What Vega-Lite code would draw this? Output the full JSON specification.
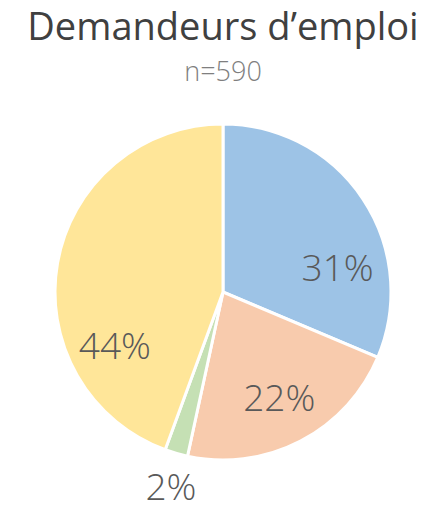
{
  "$schema": "https://vega.github.io/schema/vega-lite/v6.json",
  "width": 446,
  "height": 434,
  "autosize": "none",
  "padding": {"top": 75, "left": 0, "right": 0, "bottom": 0},
  "background": "white",
  "view": {"stroke": null},
  "title": {
    "text": "Demandeurs d’emploi",
    "subtitle": "n=590",
    "anchor": "middle",
    "font": "Open Sans",
    "fontSize": 38,
    "fontWeight": "normal",
    "color": "#404040",
    "subtitleFont": "Open Sans",
    "subtitleFontSize": 27,
    "subtitleFontWeight": 300,
    "subtitleColor": "#7F7F7F",
    "subtitlePadding": 12,
    "offset": -11
  },
  "data": {
    "values": [
      {"k": 1, "categorie": "A", "n": 185, "label": "31%"},
      {"k": 2, "categorie": "B", "n": 130, "label": "22%"},
      {"k": 3, "categorie": "C", "n": 13, "label": "2%"},
      {"k": 4, "categorie": "D", "n": 262, "label": "44%"}
    ]
  },
  "encoding": {
    "theta": {"field": "n", "type": "quantitative", "stack": true},
    "order": {"field": "k", "type": "quantitative"},
    "color": {
      "field": "categorie",
      "type": "nominal",
      "scale": {"domain": ["A", "B", "C", "D"], "range": ["#9DC3E6", "#F8CBAD", "#C5E0B4", "#FFE699"]},
      "legend": null
    }
  },
  "layer": [
    {
      "mark": {"type": "arc", "outerRadius": 168, "stroke": "white", "strokeWidth": 3}
    },
    {
      "mark": {"type": "text", "radius": 122, "font": "Open Sans", "fontSize": 37, "fontWeight": 300, "baseline": "middle", "align": "center"},
      "encoding": {
        "text": {"field": "label"},
        "opacity": {"condition": {"test": "datum.k == 2", "value": 1}, "value": 0},
        "color": {"value": "#595959"}
      }
    },
    {
      "mark": {"type": "text", "radius": 122, "dx": 13, "dy": 45, "font": "Open Sans", "fontSize": 37, "fontWeight": 300, "baseline": "middle", "align": "center"},
      "encoding": {
        "text": {"field": "label"},
        "opacity": {"condition": {"test": "datum.k == 1", "value": 1}, "value": 0},
        "color": {"value": "#595959"}
      }
    },
    {
      "mark": {"type": "text", "radius": 122, "dx": 12, "dy": 77, "font": "Open Sans", "fontSize": 37, "fontWeight": 300, "baseline": "middle", "align": "center"},
      "encoding": {
        "text": {"field": "label"},
        "opacity": {"condition": {"test": "datum.k == 4", "value": 1}, "value": 0},
        "color": {"value": "#595959"}
      }
    },
    {
      "mark": {"type": "text", "radius": 205, "dx": 5, "font": "Open Sans", "fontSize": 37, "fontWeight": 300, "baseline": "middle", "align": "center"},
      "encoding": {
        "text": {"field": "label"},
        "opacity": {"condition": {"test": "datum.k == 3", "value": 1}, "value": 0},
        "color": {"value": "#595959"}
      }
    }
  ]
}
